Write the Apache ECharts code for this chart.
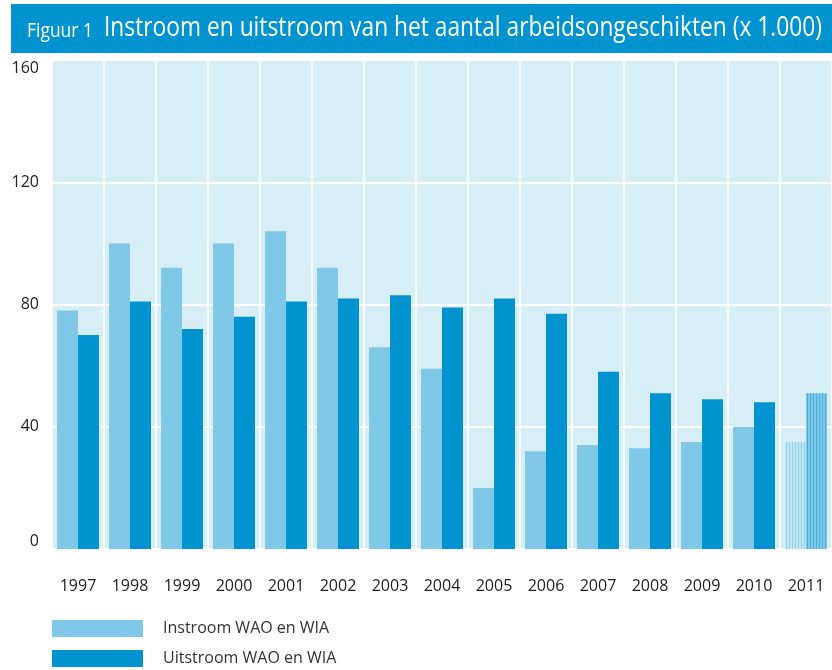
<!DOCTYPE html>
<html>
<head>
<meta charset="utf-8">
<script src="https://cdn.jsdelivr.net/npm/echarts@6/dist/echarts.min.js"></script>
<style>
html,body{margin:0;padding:0;background:#fff;}
#chart{width:832px;height:670px;}
</style>
</head>
<body>
<div id="chart"></div>
<script>
const years = ['1997','1998','1999','2000','2001','2002','2003','2004','2005','2006','2007','2008','2009','2010','2011'];
const instroom = [78, 100, 92, 100, 104, 92, 66, 59, 20, 32, 34, 33, 35, 40, 35];
const uitstroom = [70, 81, 72, 76, 81, 82, 83, 79, 82, 77, 58, 51, 49, 48, 51];
const yTicks = [0, 40, 80, 120, 160];
const forecastYears = ['2011'];
const seriesNames = ['Instroom WAO en WIA', 'Uitstroom WAO en WIA'];
const titleLabel = 'Figuur 1';
const titleText = 'Instroom en uitstroom van het aantal arbeidsongeschikten (x 1.000)';

function stripePattern(lineColor, baseColor) {
  const c = document.createElement('canvas');
  c.width = 3; c.height = 4;
  const ctx = c.getContext('2d');
  ctx.fillStyle = baseColor; ctx.fillRect(0, 0, 3, 4);
  ctx.fillStyle = lineColor; ctx.fillRect(0, 0, 1, 4);
  return { image: c, repeat: 'repeat' };
}
function measure(text, font) {
  const c = document.createElement('canvas').getContext('2d');
  c.font = font;
  return c.measureText(text).width;
}

const LIGHT = '#80c8e8', DARK = '#0093cf';
const lightStripe = stripePattern('#92d0ec', '#c0e5f5');
const darkStripe = stripePattern('#4aaedc', '#80c8ea');

function build(values, stripe) {
  return values.map((v, i) => forecastYears.includes(years[i])
    ? { value: v, itemStyle: { color: stripe } } : v);
}

const titleFamily = "'Liberation Sans Narrow', 'Open Sans', sans-serif";
const tFont = '27px ' + titleFamily;
const fFont = '500 20px ' + titleFamily;
const tScale = 718 / measure(titleText, tFont);
const fScale = 66 / measure(titleLabel, fFont);

const chart = echarts.init(document.getElementById('chart'), null, { renderer: 'canvas' });
chart.setOption({
  animation: false,
  textStyle: { fontFamily: "'Open Sans', sans-serif" },
  grid: { left: 52, right: 0, top: 60, bottom: 121, show: true, backgroundColor: '#d8eef7', borderWidth: 0 },
  graphic: [
    { type: 'rect', shape: { x: 11, y: 4, width: 821, height: 49 }, style: { fill: DARK }, z: 10 },
    { type: 'text', x: 27, y: 31, scaleX: fScale, z: 11,
      style: { text: titleLabel, x: 0, y: 0, font: fFont, fill: '#fff', verticalAlign: 'middle', align: 'left' } },
    { type: 'text', x: 104, y: 28, scaleX: tScale, z: 11,
      style: { text: titleText, x: 0, y: 0, font: tFont, fill: '#fff', verticalAlign: 'middle', align: 'left' } }
  ],
  legend: {
    orient: 'vertical', left: 52, top: 620, height: 60, itemWidth: 91, itemHeight: 17, itemGap: 13,
    icon: 'rect', data: seriesNames, padding: 0,
    textStyle: { fontSize: 16, lineHeight: 17, color: '#333', padding: [0, 0, 0, 15], fontFamily: "'Open Sans', sans-serif" }
  },
  xAxis: {
    type: 'category', data: years,
    axisLine: { show: false }, axisTick: { show: false },
    axisLabel: { margin: 29, fontSize: 16, color: '#222' },
    splitLine: { show: true, interval: 0, lineStyle: { color: '#ffffff', width: 1.5 } }
  },
  yAxis: {
    type: 'value', min: yTicks[0], max: yTicks[yTicks.length - 1], interval: 40,
    axisLine: { show: false }, axisTick: { show: false },
    axisLabel: { margin: 13, fontSize: 16, color: '#222', verticalAlignMinLabel: 'bottom', verticalAlignMaxLabel: 'top' },
    splitLine: { show: true, lineStyle: { color: '#ffffff', width: 2 } }
  },
  series: [
    { name: seriesNames[0], type: 'bar', data: build(instroom, lightStripe), barWidth: 21, barGap: '0%', itemStyle: { color: LIGHT } },
    { name: seriesNames[1], type: 'bar', data: build(uitstroom, darkStripe), barWidth: 21, barGap: '0%', itemStyle: { color: DARK } }
  ]
});
</script>
</body>
</html>
